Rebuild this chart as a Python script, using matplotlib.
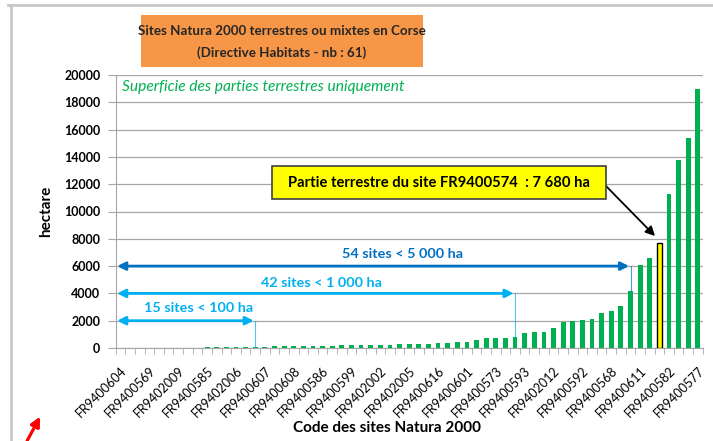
"""Sites Natura 2000 terrestres ou mixtes en Corse - bar chart."""

import numpy as np
import matplotlib.pyplot as plt
from matplotlib.patches import Rectangle
from matplotlib.lines import Line2D

plt.rcParams['font.family'] = ['Lato', 'DejaVu Sans']

# surfaces (ha) of the 61 sites, sorted
surfaces = [2, 4, 7, 10, 13, 17, 21, 26, 31, 37, 44, 52, 61, 72, 88,
            105, 115, 125, 135, 145, 155, 165, 175, 185, 195, 205, 215, 230, 245, 262,
            280, 300, 320, 340, 380, 420, 440, 550, 700, 750, 750, 800,
            1100, 1200, 1200, 1500, 1870, 2000, 2050, 2150, 2600, 2700, 3100, 4200,
            6100, 6600, 7680, 11300, 13800, 15400, 19000]
highlight = 56  # FR9400574

tick_labels = ['FR9400604', 'FR9400569', 'FR9402009', 'FR9400585', 'FR9402006',
               'FR9400607', 'FR9400608', 'FR9400586', 'FR9400599', 'FR9402002',
               'FR9402005', 'FR9400616', 'FR9400601', 'FR9400573', 'FR9400593',
               'FR9402012', 'FR9400592', 'FR9400568', 'FR9400611', 'FR9400582',
               'FR9400577']

# (label, y level, last site index, colour, label x, label y)
ranges = [('54 sites < 5 000 ha', 6000, 53, '#0070C0', 29.3, 6890),
          ('42 sites < 1 000 ha', 4000, 41, '#00B0F0', 20.9, 4760),
          ('15 sites < 100 ha', 2000, 14, '#00B0F0', 8.1, 2930)]

green = '#00B050'
n = len(surfaces)
x = np.arange(n)
W, H = 713, 441

fig = plt.figure(figsize=(7.13, 4.41), dpi=100)
ax = fig.add_axes([115.7/W, 1-348/H, 587/W, 273/H])

colors = [green] * n
colors[highlight] = '#FFFF00'
bars = ax.bar(x, surfaces, width=0.5, color=colors, zorder=3)
bars[highlight].set_edgecolor('black')
bars[highlight].set_linewidth(1.0)

ax.set_xlim(-0.5, n - 0.5)
ax.set_ylim(0, 20000)
ax.set_yticks(np.arange(0, 20001, 2000))
ax.grid(axis='y', color='#A6A6A6', lw=0.9, zorder=0)
ax.set_axisbelow(True)
for s in ['top', 'right']:
    ax.spines[s].set_visible(False)
ax.spines['left'].set_color('#A6A6A6')
ax.spines['bottom'].set_color('#A6A6A6')
ax.tick_params(axis='y', length=6, color='#A6A6A6', pad=5)
for lab in ax.get_yticklabels():
    lab.set_fontweight('bold')
    lab.set_fontsize(9)

ax.set_xticks(x[::3])
ax.set_xticklabels(tick_labels, rotation=45, ha='right', rotation_mode='anchor',
                   fontsize=9)
ax.set_xticks(np.arange(-0.5, n), minor=True)
ax.tick_params(axis='x', which='major', length=0, pad=12)
ax.tick_params(axis='x', which='minor', length=4, color='#A6A6A6')

ax.set_ylabel('hectare', fontsize=11, fontweight='bold', labelpad=8)
fig.text(387/W, 1-428/H, 'Code des sites Natura 2000', fontsize=11,
         fontweight='bold', ha='center', va='center')

ax.text(0.01, 0.955, 'Superficie des parties terrestres uniquement',
        transform=ax.transAxes, color=green, style='italic', fontsize=11.2,
        va='center', ha='left')

# range arrows
for label, ylev, last, col, lx, ly in ranges:
    ax.annotate('', xy=(last - 0.15, ylev), xytext=(-0.35, ylev),
                arrowprops=dict(arrowstyle='<|-|>', color=col, lw=2,
                                mutation_scale=12, shrinkA=0, shrinkB=0),
                zorder=5)
    ax.plot([last, last], [ylev, surfaces[last]], color=col, lw=0.8,
            alpha=0.7, zorder=4)
    ax.text(lx, ly, label, color=col, fontsize=10.4, fontweight='bold',
            ha='center', va='center', zorder=5)

# yellow annotation box
fig.patches.append(Rectangle((272/W, 1-199/H), 334/W, 32.6/H,
                             transform=fig.transFigure, fc='#FFFF00',
                             ec='#404040', lw=1.2, zorder=6))
fig.text(439/W, 1-183/H, 'Partie terrestre du site FR9400574  : 7 680 ha',
         fontsize=10.6, fontweight='bold', ha='center', va='center', zorder=7)
ax.annotate('', xy=(highlight - 0.45, 8200), xycoords='data',
            xytext=(606, H - 186), textcoords='figure pixels',
            arrowprops=dict(arrowstyle='-|>', color='black', lw=1.3,
                            mutation_scale=14, shrinkA=0, shrinkB=0),
            zorder=6)

# title box
fig.patches.append(Rectangle((141/W, 1-67/H), 282/W, 52/H,
                             transform=fig.transFigure, fc='#F79646',
                             ec='none', zorder=1))
fig.text(282/W, 1-31/H, 'Sites Natura 2000 terrestres ou mixtes en Corse',
         ha='center', va='center', fontsize=9.6, fontweight='bold',
         color='#262626')
fig.text(282/W, 1-53/H, '(Directive Habitats - nb : 61)',
         ha='center', va='center', fontsize=9.6, fontweight='bold',
         color='#262626')

# chart frame
fig.add_artist(Line2D([8/W, 1], [1-5/H, 1-5/H], color='#C8C8C8', lw=2,
                      transform=fig.transFigure))
fig.add_artist(Line2D([11/W, 11/W], [0, 1-5/H], color='#C8C8C8', lw=2,
                      transform=fig.transFigure))

# stray red arrow
fig.add_artist(plt.annotate('', xy=(40/W, 1-417/H), xycoords='figure fraction',
                            xytext=(27/W, 0), textcoords='figure fraction',
                            arrowprops=dict(arrowstyle='-|>', color='red', lw=2,
                                            mutation_scale=14, shrinkA=0,
                                            shrinkB=0)))

fig.savefig('out.png', dpi=100)
